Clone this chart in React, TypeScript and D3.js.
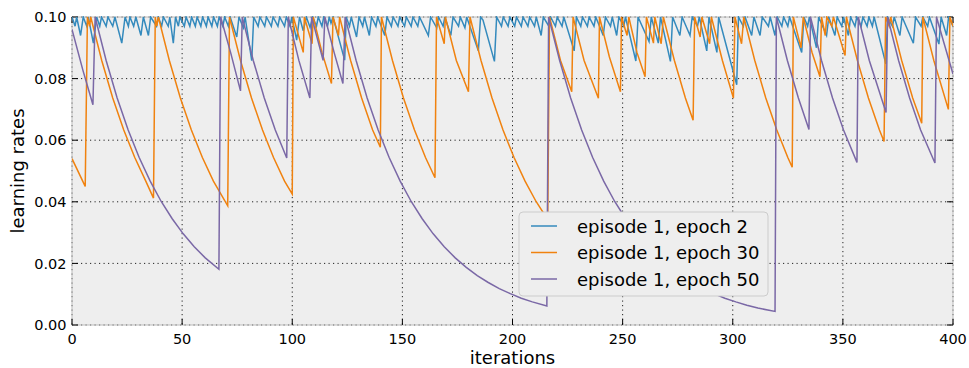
import React from "react";
import * as d3 from "d3";

const xTicks = [0, 50, 100, 150, 200, 250, 300, 350, 400];
const yTicks = [0, 0.02, 0.04, 0.06, 0.08, 0.1];
const seriesNames = ["episode 1, epoch 2", "episode 1, epoch 30", "episode 1, epoch 50"];
const seriesColors = ["#348ABD", "#F0820F", "#7A68A6"];

// episode 1, epoch 2
const blueData: [number, number][] = [
  [0,0.1],[1.4,0.097],[2.1,0.1],[3.9,0.094],[5.1,0.1],[6.7,0.097],[7.4,0.1],[9.7,0.0915],[11.2,0.1],[12.6,0.097],[13.4,0.1],[15.5,0.097],[16.3,0.1],[18.5,0.097],[19.5,0.1],[22.6,0.0915],[24.1,0.1],[25.6,0.097],[26.3,0.1],[28,0.097],[29,0.1],[31.3,0.094],[32.4,0.1],[34.7,0.094],[35.7,0.1],[38.4,0.097],[39.2,0.1],[40.7,0.097],[41.5,0.1],[43.7,0.097],[44.4,0.1],[46,0.0915],[47,0.1],[48.3,0.097],[49,0.1],
  [51,0.097],[51.8,0.1],[53.5,0.097],[54.3,0.1],[56,0.097],[56.8,0.1],[58.5,0.097],[59.3,0.1],[61,0.097],[61.8,0.1],[63.5,0.097],[64.3,0.1],[66,0.097],[66.8,0.1],[68.5,0.097],[69.3,0.1],[71,0.097],[71.8,0.1],[74.8,0.0935],[75.8,0.1],[77.8,0.0965],[78.6,0.1],[81.6,0.0858],[82.5,0.1],[84.5,0.097],[85.3,0.1],[87.5,0.097],[88.3,0.1],[90.5,0.097],[91.3,0.1],[93.5,0.097],[94.3,0.1],[96.5,0.097],[97.3,0.1],[99,0.097],[99.8,0.1],
  [102,0.0925],[103.3,0.1],[105,0.0955],[106.4,0.1],[108.1,0.0966],[109.3,0.1],[111,0.097],[111.8,0.1],[113.5,0.097],[114.3,0.1],[116,0.097],[116.8,0.1],[117.6,0.098],[118.5,0.1],[123.8,0.086],[124.5,0.1],[126,0.097],[126.8,0.1],[129.2,0.0935],[130.3,0.1],[132,0.097],[132.8,0.1],[135,0.094],[136,0.1],
  [138,0.097],[138.8,0.1],[142,0.094],[143,0.1],[145,0.097],[145.8,0.1],[148,0.097],[148.8,0.1],[151,0.097],[151.8,0.1],[154,0.097],[154.8,0.1],[157,0.097],[157.8,0.1],[161.8,0.094],[162.8,0.1],[165.6,0.0965],[166.4,0.1],[168.5,0.097],[169.3,0.1],[172,0.094],[173,0.1],[175.5,0.097],[176.3,0.1],[178.4,0.0965],[179.2,0.1],[184.5,0.089],[185.5,0.1],[186.6,0.099],[191.8,0.0856],[192.8,0.1],[195,0.097],[195.8,0.1],[198,0.097],[198.8,0.1],[201,0.097],[201.8,0.1],[204,0.097],[204.8,0.1],[207,0.097],[207.8,0.1],[210,0.097],[210.8,0.1],[213,0.094],[214,0.1],
  [216.5,0.097],[217.3,0.1],[219.5,0.097],[220.3,0.1],[222.5,0.097],[223.3,0.1],[228,0.089],[229,0.1],[231,0.097],[231.8,0.1],[234,0.097],[234.8,0.1],[237,0.097],[237.8,0.1],[241.2,0.094],[242.2,0.1],[244.5,0.097],[245.3,0.1],[247.3,0.094],[248.3,0.1],[250.5,0.097],[251.3,0.1],[256,0.0857],[257,0.1],[262,0.092],[263,0.1],[266.2,0.0915],[267.2,0.1],[271.7,0.0856],[272.7,0.1],[276,0.094],[277,0.1],[280.6,0.094],[281.6,0.1],[284,0.097],[284.8,0.1],[288.2,0.089],[289.2,0.1],[292.8,0.0885],[293.6,0.1],[301.8,0.078],[302.6,0.1],
  [304.8,0.097],[305.6,0.1],[308.6,0.094],[309.6,0.1],[312.4,0.094],[313.4,0.1],[316.2,0.097],[317,0.1],[319.2,0.094],[320.2,0.1],[322.3,0.097],[323.1,0.1],[325,0.097],[325.8,0.1],[331.3,0.0885],[332.3,0.1],[334,0.097],[334.8,0.1],[338,0.09],[339,0.1],[342.6,0.094],[343.6,0.1],[346.4,0.094],[347.4,0.1],[349.5,0.097],[350.3,0.1],[352.5,0.094],[353.5,0.1],[355.5,0.097],[356.3,0.1],[358.3,0.097],[359.1,0.1],[361,0.097],[361.8,0.1],[363.4,0.097],[364.2,0.1],[369.5,0.0848],[370.3,0.1],[372.5,0.097],[373.3,0.1],[375.9,0.094],[376.9,0.1],[382,0.0915],[383,0.1],[385.5,0.097],[386.3,0.1],[388.5,0.097],[389.3,0.1],[393.6,0.0912],[394.6,0.1],[397.1,0.094],[398,0.1],[400,0.097]
];

// episode 1, epoch 30
const orangeData: [number, number][] = [
  [0,0.054],[6,0.045],[7,0.1],[8,0.097],[8.5,0.1],[13.5,0.0859],[18.5,0.0737],[23.5,0.0633],[28.5,0.0544],[33.5,0.0467],[37,0.0412],
  [37.8,0.1],[38.5,0.097],[39.2,0.1],[44.2,0.0859],[49.2,0.0737],[54.2,0.0633],[59.2,0.0544],[64.2,0.0467],[70.7,0.0387],
  [71.5,0.1],[76.5,0.0859],[81.5,0.0737],[86.5,0.0633],[91.5,0.0544],[96.5,0.0467],[100,0.0425],
  [100.5,0.1],[105,0.0885],[105.5,0.1],[109,0.0913],[109.5,0.1],[113.5,0.0885],[117.8,0.0784],[118.5,0.1],[121,0.094],[121.5,0.1],[126.5,0.0859],[131.5,0.0737],[136.5,0.0633],[140,0.0577],
  [140.5,0.1],[145.5,0.0859],[150.5,0.0737],[155.5,0.0633],[160.5,0.0544],[164.8,0.0478],
  [165.5,0.1],[169,0.0913],[169.5,0.1],[174.5,0.0859],[180,0.0757],
  [180.7,0.1],[185.7,0.0859],[190.7,0.0737],[195.7,0.0633],[200.7,0.0544],[205.7,0.0467],[210.7,0.0401],[216,0.0342],
  [216.8,0.1],[221.8,0.0859],[226.9,0.0757],[227.5,0.1],[232.5,0.0859],[239,0.0736],[239.5,0.1],[244,0.087],[249,0.0757],[249.5,0.1],[252,0.094],[252.8,0.1],[256.5,0.0885],[260.2,0.0806],[260.8,0.1],[264,0.0915],[264.6,0.1],[267.5,0.0913],[268.5,0.1],[273.5,0.0859],[278.5,0.0737],[282,0.0665],
  [282.7,0.1],[285.2,0.0935],[286,0.1],[289.5,0.0913],[290.3,0.1],[295.3,0.0859],[300.3,0.0737],
  [301,0.1],[304,0.0913],[305,0.1],[310,0.0859],[315,0.0737],[320,0.0633],[325,0.0544],[327,0.0512],
  [327.5,0.1],[331,0.09],[332,0.1],[336,0.0885],[339.6,0.0806],
  [340.3,0.1],[342,0.094],[342.7,0.1],[345,0.097],[345.7,0.1],[351,0.0875],[351.6,0.1],[356.6,0.0859],[361.6,0.0737],[366.6,0.0633],[368.7,0.0596],
  [369.4,0.1],[371,0.097],[371.7,0.1],[376.7,0.0859],[381.7,0.0737],[385.8,0.0655],
  [386.3,0.1],[391.3,0.0859],[397.9,0.07],
  [398.6,0.1],[400,0.097]
];

// episode 1, epoch 50
const purpleData: [number, number][] = [
  [0,0.096],[5,0.0826],[9.5,0.0715],[10.5,0.1],[15.5,0.0859],[20.5,0.0737],[25.5,0.0633],[30.5,0.0544],[35.5,0.0467],[40.5,0.0401],[45.5,0.0345],[50.5,0.0296],[55.5,0.0254],[60.5,0.0218],[66.7,0.0181],
  [67.5,0.1],[72,0.0885],[76.5,0.076],
  [77.3,0.1],[82.3,0.0859],[87.3,0.0737],[92.3,0.0633],[97.5,0.0542],
  [98.2,0.1],[103,0.0859],[108,0.0737],
  [108.8,0.1],[114,0.0859],
  [114.8,0.1],[119,0.0885],[123,0.0784],
  [124,0.1],[129,0.0859],[134,0.0737],[139,0.0633],[144,0.0544],[149,0.0467],[154,0.0401],[159,0.0345],[164,0.0296],[169,0.0254],[174,0.0218],[179,0.0187],[184,0.016],[189,0.0138],[194,0.0118],[199,0.0102],[204,0.0087],[209,0.0075],[215.6,0.0062],
  [216.4,0.1],[221.4,0.0859],[226.4,0.0737],[231.4,0.0633],[236.4,0.0544],[241.4,0.0467],[246.4,0.0401],[251.4,0.0345],[256.4,0.0296],[261.4,0.0254],[266.4,0.0218],[271.4,0.0187],[276.4,0.016],[281.4,0.0138],[286.4,0.0118],[291.4,0.0102],[296.4,0.0087],[301.4,0.0075],[306.4,0.0064],[311.4,0.0055],[319.2,0.0044],
  [319.8,0.1],[324.8,0.0859],[329.8,0.0737],[334.6,0.0635],
  [335.3,0.1],[340.3,0.0859],[345.3,0.0737],[350.3,0.0633],[356.4,0.0528],
  [357,0.1],[362,0.0859],[369.6,0.069],
  [370.3,0.1],[375.3,0.0859],[380.3,0.0737],[385.3,0.0633],[391.8,0.0526],
  [392.5,0.1],[396,0.0913],[400,0.0815]
];

const allSeries = [blueData, orangeData, purpleData];

const W = 969, H = 368;
const L = 72, R = 953, T = 17, B = 325;
const FONT = "DejaVu Sans, sans-serif";

export default function App() {
  const x = d3.scaleLinear().domain([0, 400]).range([L, R]);
  const y = d3.scaleLinear().domain([0, 0.1]).range([B, T]);
  const line = d3.line<[number, number]>().x(d => x(d[0])).y(d => y(d[1])).curve(d3.curveLinear);
  const tickLen = 6;
  const lg = { x0: 519, y0: 212, x1: 768, y1: 296 };
  const rowY = [226, 252.5, 279];
  return (
    <svg width={W} height={H} style={{ position: "absolute", left: 0, top: 0, background: "#fff" }} fontFamily={FONT}>
      <defs>
        <clipPath id="plotClip"><rect x={L} y={T - 1} width={R - L} height={B - T + 2} /></clipPath>
      </defs>
      <rect x={L} y={T} width={R - L} height={B - T} fill="#eeeeee" />
      {/* grid */}
      {xTicks.map(t => (
        <line key={"gx" + t} x1={x(t)} x2={x(t)} y1={T} y2={B} stroke="#000" strokeWidth={1} strokeDasharray="1.2,3.3" opacity={0.85} />
      ))}
      {yTicks.map(t => (
        <line key={"gy" + t} x1={L} x2={R} y1={y(t)} y2={y(t)} stroke="#000" strokeWidth={1} strokeDasharray="1.2,3.3" opacity={0.85} />
      ))}
      {/* frame */}
      <rect x={L} y={T} width={R - L} height={B - T} fill="none" stroke="#bcbcbc" strokeWidth={1} />
      {/* ticks */}
      {xTicks.map(t => (
        <g key={"tx" + t}>
          <line x1={x(t)} x2={x(t)} y1={B} y2={B - tickLen} stroke="#000" strokeWidth={1} />
          <line x1={x(t)} x2={x(t)} y1={T} y2={T + tickLen} stroke="#000" strokeWidth={1} />
        </g>
      ))}
      {yTicks.map(t => (
        <g key={"ty" + t}>
          <line x1={L} x2={L + tickLen} y1={y(t)} y2={y(t)} stroke="#000" strokeWidth={1} />
          <line x1={R} x2={R - tickLen} y1={y(t)} y2={y(t)} stroke="#000" strokeWidth={1} />
        </g>
      ))}
      {/* series */}
      <g clipPath="url(#plotClip)">
        {allSeries.map((s, i) => (
          <path key={"s" + i} d={line(s) || ""} fill="none" stroke={seriesColors[i]} strokeWidth={1.5} strokeLinejoin="miter" />
        ))}
      </g>
      {/* tick labels */}
      {xTicks.map(t => (
        <text key={"lx" + t} x={x(t)} y={343.5} textAnchor="middle" fontSize={14.5} fill="#000">{t}</text>
      ))}
      {yTicks.map(t => (
        <text key={"ly" + t} x={66.5} y={y(t) + 5.2} textAnchor="end" fontSize={14.5} fill="#000">{t.toFixed(2)}</text>
      ))}
      {/* axis labels */}
      <text x={(L + R) / 2} y={364} textAnchor="middle" fontSize={18} fill="#000">iterations</text>
      <text transform={`translate(24,${(T + B) / 2}) rotate(-90)`} textAnchor="middle" fontSize={18} fill="#000">learning rates</text>
      {/* legend */}
      <rect x={lg.x0} y={lg.y0} width={lg.x1 - lg.x0} height={lg.y1 - lg.y0} rx={4} ry={4} fill="#eeeeee" stroke="#cccccc" strokeWidth={1} />
      {seriesNames.map((n, i) => (
        <g key={"lg" + i}>
          <line x1={531} x2={557} y1={rowY[i]} y2={rowY[i]} stroke={seriesColors[i]} strokeWidth={1.5} />
          <text x={577} y={rowY[i] + 6.5} fontSize={18} fill="#000">{n}</text>
        </g>
      ))}
    </svg>
  );
}
